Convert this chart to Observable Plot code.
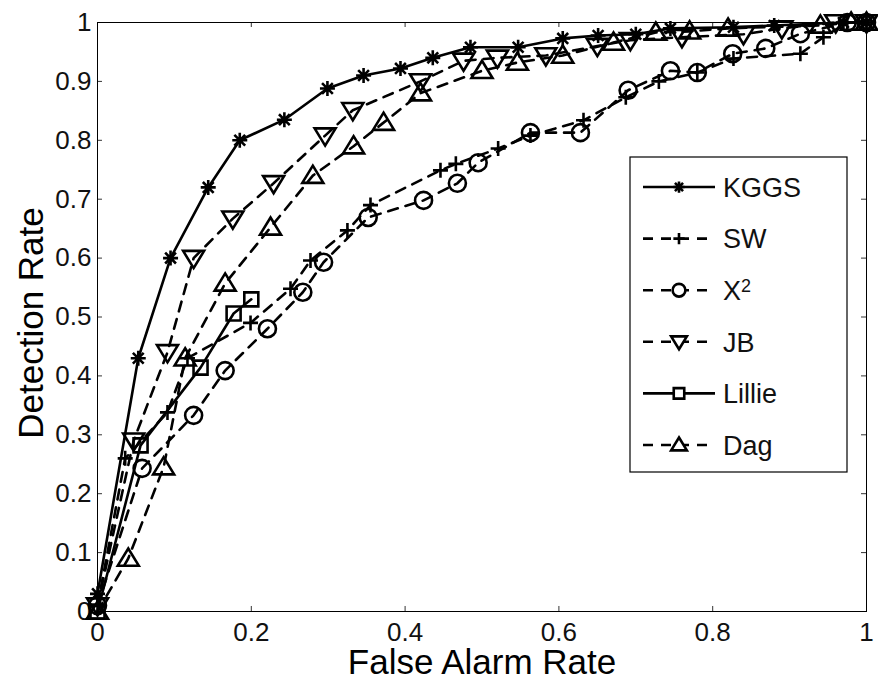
<!DOCTYPE html>
<html><head><meta charset="utf-8">
<script src="https://cdn.jsdelivr.net/npm/d3@7"></script>
<script src="https://cdn.jsdelivr.net/npm/@observablehq/plot@0.6"></script>
<style>
body{margin:0;background:#fff;}
#chart{width:878px;height:683px;}
svg{font-family:"Liberation Sans",Arial,sans-serif;}
</style>
</head><body><div id="chart"></div>
<script>
// ---- data ----
const xLabel = "False Alarm Rate";
const yLabel = "Detection Rate";
const xTicks = [0, 0.2, 0.4, 0.6, 0.8, 1];
const yTicks = [0, 0.1, 0.2, 0.3, 0.4, 0.5, 0.6, 0.7, 0.8, 0.9, 1];
const seriesNames = ["KGGS", "SW", "X2", "JB", "Lillie", "Dag"];

const kggsFA = [0, 0.053, 0.095, 0.144, 0.185, 0.243, 0.299, 0.346, 0.394, 0.436, 0.485, 0.547, 0.605, 0.651, 0.70, 0.745, 0.827, 0.88, 0.97, 1];
const kggsDR = [0.03, 0.43, 0.60, 0.72, 0.80, 0.835, 0.888, 0.91, 0.922, 0.94, 0.958, 0.958, 0.973, 0.978, 0.98, 0.99, 0.992, 0.995, 1, 1];

const swFA = [0, 0.036, 0.091, 0.117, 0.199, 0.251, 0.277, 0.325, 0.355, 0.446, 0.466, 0.521, 0.563, 0.632, 0.687, 0.73, 0.78, 0.827, 0.914, 0.944, 0.975, 1];
const swDR = [0.01, 0.26, 0.338, 0.43, 0.49, 0.548, 0.596, 0.647, 0.69, 0.749, 0.76, 0.786, 0.808, 0.834, 0.873, 0.90, 0.915, 0.939, 0.947, 0.975, 1, 1];

const x2FA = [0, 0.058, 0.125, 0.166, 0.221, 0.267, 0.294, 0.352, 0.424, 0.468, 0.495, 0.563, 0.628, 0.69, 0.745, 0.78, 0.826, 0.869, 0.914, 0.975, 1];
const x2DR = [0.01, 0.243, 0.333, 0.409, 0.48, 0.542, 0.593, 0.669, 0.698, 0.727, 0.762, 0.813, 0.813, 0.885, 0.918, 0.915, 0.947, 0.956, 0.981, 1, 1];

const jbFA = [0, 0.047, 0.091, 0.125, 0.176, 0.229, 0.296, 0.332, 0.42, 0.476, 0.52, 0.583, 0.65, 0.693, 0.76, 0.84, 0.89, 0.96, 1];
const jbDR = [0.01, 0.29, 0.44, 0.60, 0.667, 0.727, 0.808, 0.851, 0.90, 0.935, 0.94, 0.944, 0.96, 0.97, 0.975, 0.98, 0.99, 1, 1];

const lillieFA = [0, 0.056, 0.134, 0.177, 0.2];
const lillieDR = [0, 0.282, 0.414, 0.506, 0.53];

const dagFA = [0, 0.040, 0.086, 0.114, 0.166, 0.225, 0.28, 0.333, 0.372, 0.42, 0.50, 0.546, 0.605, 0.671, 0.726, 0.77, 0.82, 0.94, 0.98, 1];
const dagDR = [0, 0.09, 0.245, 0.43, 0.557, 0.652, 0.74, 0.79, 0.83, 0.88, 0.918, 0.932, 0.944, 0.966, 0.983, 0.985, 0.99, 0.995, 1, 1];

// ---- marker symbols (MATLAB-like, hollow) ----
function sym(f) { return {draw(ctx, size) { f(ctx, Math.sqrt(size / Math.PI)); }}; }
const symAsterisk = sym((c, r) => {
  c.moveTo(-r, 0); c.lineTo(r, 0); c.moveTo(0, -r); c.lineTo(0, r);
  const d = r * 0.72; c.moveTo(-d, -d); c.lineTo(d, d); c.moveTo(-d, d); c.lineTo(d, -d);
});
const symPlus = sym((c, r) => { c.moveTo(-r, 0); c.lineTo(r, 0); c.moveTo(0, -r); c.lineTo(0, r); });
const symCircle = sym((c, r) => { c.moveTo(r, 0); c.arc(0, 0, r, 0, 2 * Math.PI); });
const symSquare = sym((c, r) => { c.rect(-r, -r, 2 * r, 2 * r); });
const symTriUp = sym((c, r) => { c.moveTo(0, -r); c.lineTo(r * 1.05, r * 0.72); c.lineTo(-r * 1.05, r * 0.72); c.closePath(); });
const symTriDown = sym((c, r) => { c.moveTo(0, r); c.lineTo(r * 1.05, -r * 0.72); c.lineTo(-r * 1.05, -r * 0.72); c.closePath(); });

const series = [
  {name: "KGGS", fa: kggsFA, dr: kggsDR, dashed: false, symbol: symAsterisk, r: 7.5},
  {name: "SW", fa: swFA, dr: swDR, dashed: true, symbol: symPlus, r: 7.5},
  {name: "X2", fa: x2FA, dr: x2DR, dashed: true, symbol: symCircle, r: 8.5},
  {name: "JB", fa: jbFA, dr: jbDR, dashed: true, symbol: symTriDown, r: 10},
  {name: "Lillie", fa: lillieFA, dr: lillieDR, dashed: false, symbol: symSquare, r: 7},
  {name: "Dag", fa: dagFA, dr: dagDR, dashed: true, symbol: symTriUp, r: 10}
];
const DASH = "10,8";
const FONT = '"Liberation Sans", Arial, sans-serif';

const marks = [];
for (const s of series) {
  const rows = s.fa.map((x, i) => ({x, y: s.dr[i]}));
  marks.push(Plot.line(rows, {x: "x", y: "y", stroke: "black", strokeWidth: 2.6,
    strokeDasharray: s.dashed ? DASH : null, strokeLinejoin: "miter"}));
  marks.push(Plot.dot(rows, {x: "x", y: "y", symbol: () => s.symbol, r: s.r,
    stroke: "black", fill: "none", strokeWidth: 2.6}));
}

const fmt = d => String(+d.toFixed(1));
const tx = 0.0065, ty = 0.0085;
const chart = Plot.plot({
  width: 878, height: 683,
  marginLeft: 97, marginRight: 12, marginTop: 22, marginBottom: 72,
  style: {fontFamily: FONT, background: "white", color: "black"},
  x: {domain: [0, 1], axis: null},
  y: {domain: [0, 1], axis: null},
  symbol: {type: "identity"},
  marks: [
    Plot.ruleX(xTicks, {x: d => d, y1: 0, y2: ty, stroke: "#333", strokeWidth: 1}),
    Plot.ruleX(xTicks, {x: d => d, y1: 1, y2: 1 - ty, stroke: "#333", strokeWidth: 1}),
    Plot.ruleY(yTicks, {y: d => d, x1: 0, x2: tx, stroke: "#333", strokeWidth: 1}),
    Plot.ruleY(yTicks, {y: d => d, x1: 1, x2: 1 - tx, stroke: "#333", strokeWidth: 1}),
    Plot.text(xTicks, {x: d => d, text: fmt, frameAnchor: "bottom", lineAnchor: "middle", textAnchor: "middle", dy: 21, fontSize: 26, fill: "#111"}),
    Plot.text(yTicks, {y: d => d, text: fmt, frameAnchor: "left", lineAnchor: "middle", dx: -6, textAnchor: "end", fontSize: 26, fill: "#111"}),
    Plot.text([xLabel], {text: d => d, frameAnchor: "bottom", lineAnchor: "middle", textAnchor: "middle", dy: 51, fontSize: 35}),
    Plot.text([yLabel], {text: d => d, frameAnchor: "left", lineAnchor: "middle", textAnchor: "middle", dx: -66, dy: 6, rotate: -90, fontSize: 35}),
    ...marks,
    Plot.frame({stroke: "black", strokeWidth: 1})
  ]
});
document.getElementById("chart").appendChild(chart);

// ---- legend (inside the axes, top-right) ----
const svg = d3.select(chart);
const lg = svg.append("g").attr("font-family", FONT).attr("text-anchor", "start");
const box = {x: 630, y: 157, w: 217, h: 315};
lg.append("rect").attr("x", box.x).attr("y", box.y).attr("width", box.w).attr("height", box.h)
  .attr("fill", "white").attr("stroke", "black").attr("stroke-width", 1.2);
series.forEach((s, i) => {
  const cy = 187 + i * 51.6;
  const g = lg.append("g");
  g.append("line").attr("x1", 643).attr("x2", 715).attr("y1", cy).attr("y2", cy)
    .attr("stroke", "black").attr("stroke-width", 2.6).attr("stroke-dasharray", s.dashed ? DASH : null);
  const p = d3.path(); s.symbol.draw(p, Math.PI * (s.r * 0.75) ** 2);
  g.append("path").attr("d", p.toString()).attr("transform", `translate(679,${cy})`)
    .attr("fill", "white").attr("stroke", "black").attr("stroke-width", 2.6);
  const t = g.append("text").attr("x", 723).attr("y", cy).attr("dy", "0.36em")
    .attr("font-size", 27).attr("text-anchor", "start").attr("fill", "#111");
  if (s.name === "X2") {
    t.append("tspan").text("X");
    t.append("tspan").attr("dy", "-0.45em").attr("font-size", 18).text("2");
  } else t.text(s.name);
});
</script>
</body></html>
